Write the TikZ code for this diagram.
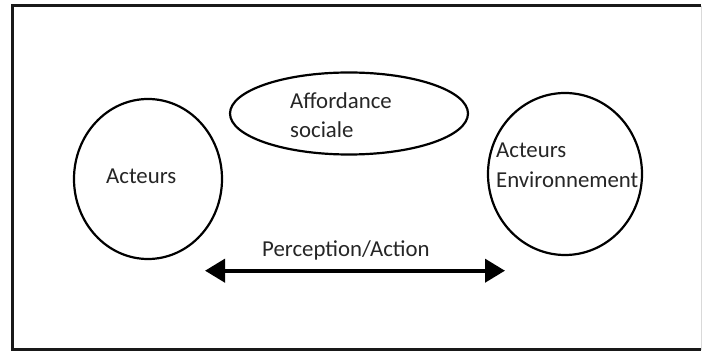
\documentclass[tikz,border=0pt]{standalone}
\usepackage{fontspec}
\setmainfont{Carlito}
\usetikzlibrary{shapes.geometric,arrows.meta}
\begin{document}
\begin{tikzpicture}[x=1pt,y=-1pt,
  oval/.style={draw=black,line width=2.2pt,ellipse,inner sep=0pt},
  lbl/.style={anchor=base west,inner sep=0pt,text=black!85,font=\fontsize{22.8}{26}\selectfont},
  frameline/.style={line width=3pt,black!90}]
\useasboundingbox (0,0) rectangle (702,352);
\fill[white] (0,0) rectangle (702,352);
\draw[frameline] (701,6) -- (12,6) -- (12,350) -- (701,350);
\draw[line width=1pt,black!15] (701,6) -- (701,350);
\node[oval,minimum width=148pt,minimum height=160pt] (act) at (148,179) {};
\node[oval,minimum width=238pt,minimum height=82pt] (aff) at (349,113.5) {};
\node[oval,minimum width=154pt,minimum height=162pt] (env) at (565,174) {};
\node[lbl] (tact) at (106,184) {Acteurs};
\node[lbl] (taff1) at (290,109) {Affordance};
\node[lbl] (taff2) at (290,138) {sociale};
\node[lbl] (tenv1) at (496,158) {Acteurs};
\node[lbl] (tenv2) at (496,188) {Environnement};
\node[lbl] (tpa) at (262,257) {Perception/Action};
\coordinate (pl) at (205,270.7);
\coordinate (pr) at (505,270.7);
\draw[line width=4pt,{Triangle[length=20pt,width=23pt]}-{Triangle[length=20pt,width=23pt]}] (pl) -- (pr);
\end{tikzpicture}
\end{document}
